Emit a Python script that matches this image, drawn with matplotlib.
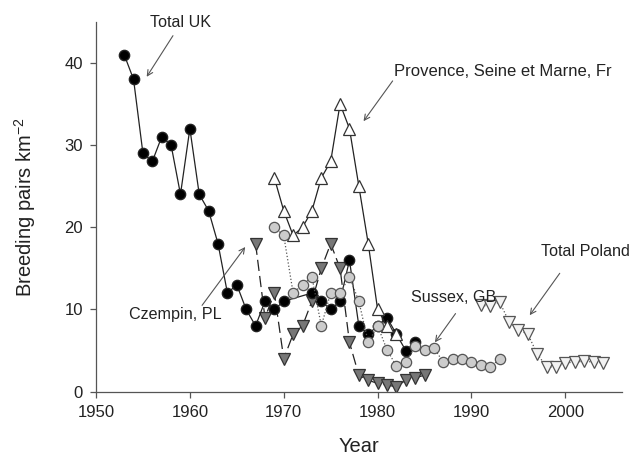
import numpy as np
import matplotlib.pyplot as plt

plt.rcParams['font.family'] = ['Liberation Sans', 'DejaVu Sans']
plt.rcParams['mathtext.fontset'] = 'custom'
plt.rcParams['mathtext.rm'] = 'Liberation Sans'

# Total UK
uk_year = [1953, 1954, 1955, 1956, 1957, 1958, 1959, 1960, 1961, 1962, 1963, 1964,
           1965, 1966, 1967, 1968, 1969, 1970, 1973, 1974, 1975, 1976, 1977, 1978,
           1979, 1980, 1981, 1982, 1983, 1984]
uk_val = [41, 38, 29, 28, 31, 30, 24, 32, 24, 22, 18, 12,
          13, 10, 8, 11, 10, 11, 12, 11, 10, 11, 16, 8,
          7, 8, 9, 7, 5, 6]

# Provence, Seine et Marne, Fr
pr_year = [1969, 1970, 1971, 1972, 1973, 1974, 1975, 1976, 1977, 1978, 1979, 1980, 1981, 1982]
pr_val = [26, 22, 19, 20, 22, 26, 28, 35, 32, 25, 18, 10, 8, 7]

# Sussex, GB
sx_year = [1969, 1970, 1971, 1972, 1973, 1974, 1975, 1976, 1977, 1978, 1979, 1980,
           1981, 1982, 1983, 1984, 1985, 1986, 1987, 1988, 1989, 1990, 1991, 1992, 1993]
sx_val = [20, 19, 12, 13, 14, 8, 12, 12, 14, 11, 6, 8,
          5.1, 3.1, 3.6, 5.5, 5.1, 5.3, 3.6, 4.0, 4.0, 3.6, 3.2, 3.0, 4.0]

# Czempin, PL
cz_year = [1967, 1968, 1969, 1970, 1971, 1972, 1973, 1974, 1975, 1976, 1977, 1978,
           1979, 1980, 1981, 1982, 1983, 1984, 1985]
cz_val = [18, 9, 12, 4, 7, 8, 11, 15, 18, 15, 6, 2,
          1.4, 1.0, 0.8, 0.6, 1.4, 1.7, 2.0]

# Total Poland
pl_year = [1991, 1992, 1993, 1994, 1995, 1996, 1997, 1998, 1999, 2000, 2001, 2002, 2003, 2004]
pl_val = [10.5, 10.4, 10.9, 8.5, 7.5, 7.0, 4.6, 3.0, 3.0, 3.5, 3.6, 3.7, 3.6, 3.5]

fig = plt.figure(figsize=(6.29, 4.58), dpi=100)
ax = fig.add_axes([0.1526, 0.1448, 0.8358, 0.8078])

ec = '#333333'
ax.plot(uk_year, uk_val, '-', color='#222222', lw=0.9, marker='o', ms=7.4,
        mfc='black', mec='#222222', zorder=3)
ax.plot(pr_year, pr_val, '-', color='#222222', lw=0.9, marker='^', ms=8,
        mfc='white', mec=ec, mew=0.9, zorder=4)
ax.plot(sx_year, sx_val, ':', color='#555555', lw=0.9, marker='o', ms=7.4,
        mfc='#cccccc', mec='#555555', mew=0.9, zorder=5)
ax.plot(cz_year, cz_val, color='#222222', lw=0.9, ls=(0, (9, 4)), marker='v', ms=8,
        mfc='#777777', mec=ec, mew=0.9, zorder=2)
ax.plot(pl_year, pl_val, ':', color='#555555', lw=0.9, marker='v', ms=8,
        mfc='#f2f2f2', mec='#555555', mew=0.9, zorder=2)

ax.set_xlim(1950, 2006)
ax.set_ylim(0, 45)
ax.set_xticks([1950, 1960, 1970, 1980, 1990, 2000])
ax.set_yticks([0, 10, 20, 30, 40])
for s in ['top', 'right']:
    ax.spines[s].set_visible(False)
for s in ['left', 'bottom']:
    ax.spines[s].set_color('#555555')
    ax.spines[s].set_linewidth(0.9)
ax.tick_params(direction='out', length=4.5, width=0.9, color='#555555',
               labelsize=12, labelcolor='#222222', pad=5)

ax.set_xlabel('Year', fontsize=14.5, color='#222222', labelpad=12)
ax.set_ylabel('Breeding pairs km$^{-2}$', fontsize=14.5, color='#222222', labelpad=19)

arr = dict(arrowstyle='->', color='#555555', lw=0.8, shrinkA=0, shrinkB=0)
fs = 11.6
ax.annotate('', xy=(1955.4, 38.3), xytext=(1958.2, 43.3), arrowprops=arr, annotation_clip=False)
ax.text(1959.0, 44.9, 'Total UK', fontsize=fs, color='#222222', ha='center', va='center', clip_on=False)
ax.annotate('', xy=(1978.5, 32.9), xytext=(1981.6, 37.8), arrowprops=arr)
ax.text(1993.3, 39.0, 'Provence, Seine et Marne, Fr', fontsize=12, color='#222222', ha='center', va='center')
ax.annotate('', xy=(1965.9, 17.6), xytext=(1961.3, 10.5), arrowprops=arr)
ax.text(1958.4, 9.4, 'Czempin, PL', fontsize=fs, color='#222222', ha='center', va='center')
ax.annotate('', xy=(1986.1, 6.0), xytext=(1988.3, 9.5), arrowprops=arr)
ax.text(1988.1, 11.5, 'Sussex, GB', fontsize=fs, color='#222222', ha='center', va='center', zorder=6)
ax.annotate('', xy=(1996.2, 9.3), xytext=(1999.4, 14.4), arrowprops=arr)
ax.text(2002.1, 17.1, 'Total Poland', fontsize=fs, color='#222222', ha='center', va='center', clip_on=False)

fig.savefig('out.png', dpi=100)
